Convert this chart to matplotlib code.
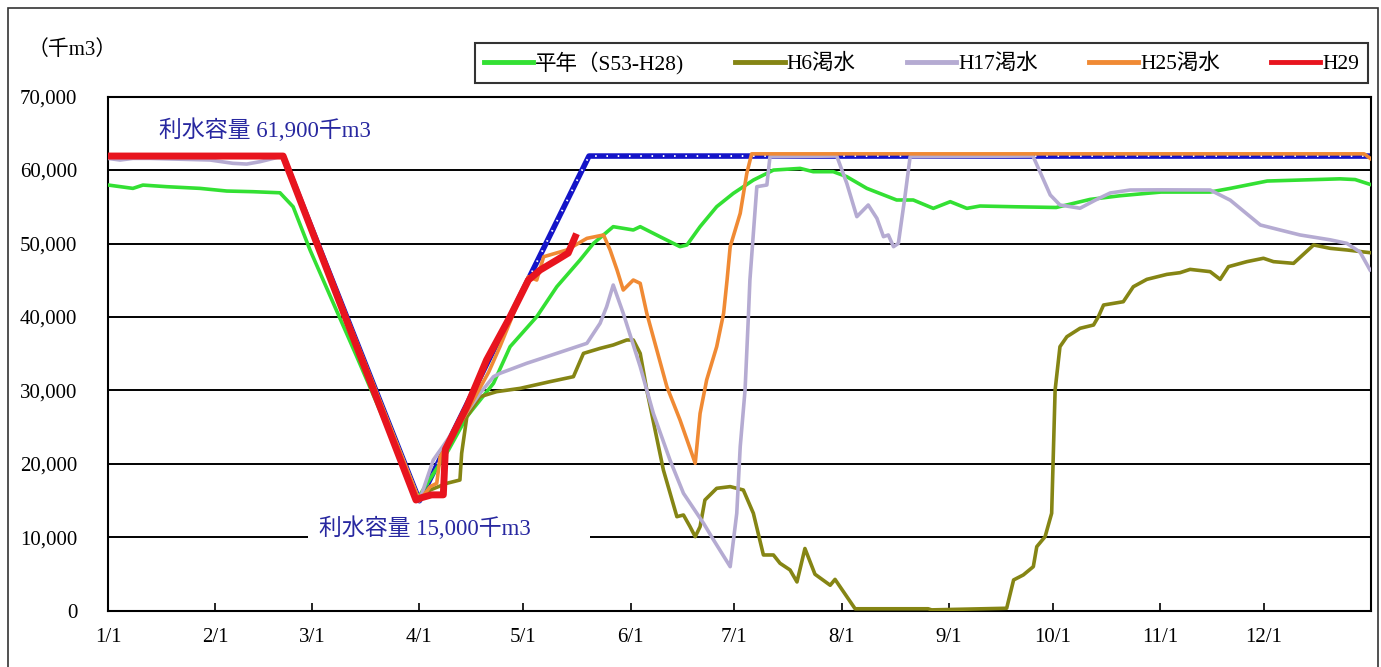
"""
Reservoir storage curve (H29 vs. past drought years).
"""

import matplotlib
matplotlib.use("Agg")
import matplotlib.pyplot as plt
from matplotlib.patches import Rectangle

plt.rcParams["font.family"] = ["Liberation Serif", "Noto Sans CJK JP", "DejaVu Sans"]

# x = day of year (0 = 1/1), y = storage in 1000 m3
month_days = [0, 31, 59, 90, 120, 151, 181, 212, 243, 273, 304, 334]
month_labels = ["1/1", "2/1", "3/1", "4/1", "5/1", "6/1",
                "7/1", "8/1", "9/1", "10/1", "11/1", "12/1"]
y_ticks = [0, 10000, 20000, 30000, 40000, 50000, 60000, 70000]

rule_days = [0, 50.6, 90, 139, 365]
rule_vals = [61900, 61900, 15000, 61900, 61900]

avg_days = [0, 7.2, 10.1, 17, 26.6, 34.3, 41.9, 49.7, 53.5, 58.4, 65, 71.9, 77.7,
            83.4, 89.2, 98.4, 103.7, 111.4, 116.2, 123.9, 129.7, 136.4, 140.3,
            146, 151.8, 153.8, 159.5, 165.3, 167.3, 171.1, 175.9, 180.7, 186.5,
            192.3, 200, 203.8, 209.6, 213.5, 219.3, 227.9, 232.7, 238.5, 243.4,
            248.2, 252, 262, 274, 283.8, 292.5, 304.3, 318.5, 324.3, 335, 356,
            360.4, 365]
avg_vals = [57960, 57500, 57950, 57730, 57500, 57140, 57050, 56900, 55000, 49100,
            42000, 34600, 28260, 21900, 15100, 21900, 26430, 30980, 35960, 40040,
            44120, 47750, 50020, 52290, 51840, 52290, 50930, 49570, 49800, 52290,
            55010, 56820, 58630, 59990, 60220, 59770, 59770, 59090, 57500, 55920,
            55920, 54780, 55690, 54780, 55100, 55000, 54900, 56000, 56500, 57000,
            57000, 57500, 58500, 58800, 58700, 58000]

h6_days = [0, 50.6, 90, 93.1, 97.9, 101.7, 102.2, 103.7, 107.5, 112.3, 119.1,
           127.7, 134.5, 137.4, 142.2, 146, 149.9, 151.8, 153.8, 155.7, 160.5,
           164.4, 166.3, 168.2, 169.7, 171.1, 172.5, 175.9, 179.8, 183.6, 186.5,
           189.4, 192.3, 194.2, 197.1, 199.1, 201.4, 204.3, 208.7, 210.1, 215.9,
           237, 238, 259.7, 261.7, 264.5, 267.4, 268.4, 270.8, 272.7, 273.7,
           275.1, 277.1, 280.9, 284.8, 286.2, 287.7, 293.4, 296.3, 300.2, 306,
           309.8, 312.7, 318.5, 321.4, 323.8, 329.1, 333.9, 336.8, 342.6, 348.4,
           353.2, 358, 364.7]
h6_vals = [61900, 61900, 15000, 16460, 17370, 17820, 21450, 26430, 29150, 29840,
           30290, 31200, 31880, 35050, 35730, 36190, 36870, 36870, 35050, 30070,
           19180, 12830, 13060, 11470, 10110, 11470, 15100, 16690, 16920, 16460,
           13290, 7620, 7620, 6490, 5580, 3950, 8500, 5000, 3500, 4300, 300,
           300, 150, 370, 4220, 4900, 6030, 8750, 10110, 13290, 30070, 35960,
           37320, 38460, 38910, 40040, 41630, 42080, 44120, 45120, 45800, 46030,
           46480, 46170, 45120, 46850, 47530, 47990, 47530, 47300, 49800, 49340,
           49120, 48750]

h17_days = [0, 3.5, 7.2, 12.1, 29.5, 36.1, 40.1, 43.9, 47.8, 50.2, 90, 94,
            107.5, 111.4, 113.3, 121, 126.8, 132.6, 138.4, 142.2, 144.1, 146,
            148.9, 153.8, 157.6, 162.4, 166.3, 172.1, 175, 179.8, 181.7, 182.7,
            184.1, 185.1, 185.5, 187.5, 190.4, 191.3, 210.6, 213.5, 216.4, 219.7,
            222.2, 224.1, 225.5, 227, 228.4, 230.3, 231.8, 267.3, 272.3, 275.1,
            280.9, 285.3, 289.6, 295.4, 304.3, 318.5, 324.3, 333, 338.7, 344.5,
            353.2, 358, 361.8, 364.7]
h17_vals = [61580, 61360, 61580, 61580, 61360, 60910, 60810, 61130, 61580, 61900,
            15000, 20540, 29610, 31880, 32340, 33700, 34600, 35510, 36420, 39140,
            41400, 44350, 40500, 33240, 26880, 20540, 16010, 11930, 9660, 6030,
            13290, 22350, 30070, 40500, 45030, 57730, 57960, 61810, 61900, 58180,
            53650, 55240, 53420, 50930, 51160, 49570, 50020, 56370, 61810, 61900,
            56600, 55240, 54800, 55900, 56870, 57280, 57300, 57280, 55900, 52520,
            51840, 51160, 50500, 50020, 48840, 46400]

h25_days = [0, 50.6, 90, 93.1, 95, 96, 103, 110, 113.3, 121.5, 123.9, 125.9,
            132.6, 138.4, 143.2, 145.1, 147.1, 148.9, 151.8, 153.8, 155.7, 161.5,
            165.3, 169.7, 171.1, 173, 175.9, 177.9, 178.9, 179.8, 182.7, 184.6,
            186, 363, 365]
h25_vals = [61900, 61900, 15000, 16920, 17370, 21000, 26500, 32500, 36000, 45480,
            45030, 48200, 49120, 50700, 51160, 49120, 46400, 43670, 45030, 44580,
            40500, 30520, 25990, 20090, 26880, 31430, 35960, 40500, 45030, 49570,
            54100, 59540, 62200, 62200, 61500]

h29_days = [0, 50.6, 89, 90.5, 93.5, 96.9, 97.5, 103.7, 109.4, 116.2, 121.5,
            124.9, 129.7, 133, 134, 135]
h29_vals = [61900, 61900, 15100, 15400, 15800, 15800, 22000, 27800, 34150, 40040,
            45030, 46400, 47750, 48700, 49800, 50900]

legend_labels = ["平年（S53-H28)", "H6渇水", "H17渇水", "H25渇水", "H29"]
note_top = "利水容量 61,900千m3"
note_bottom = "利水容量 15,000千m3"


def main():
    fig = plt.figure(figsize=(13.81, 6.67), dpi=100)
    ax = fig.add_axes([0.0782, 0.0840, 0.9146, 0.7713])

    ax.set_xlim(0, 365)
    ax.set_ylim(0, 70000)
    for v in y_ticks[1:-1]:
        ax.axhline(v, color="black", lw=1.4, zorder=1)

    # rule curve: blue with white dots
    ax.plot(rule_days, rule_vals, color="#1414C8", lw=4, zorder=2)
    ax.plot(rule_days, rule_vals, color="white", lw=1.4,
            linestyle=(0, (0.8, 5)), zorder=2.1)

    l_avg, = ax.plot(avg_days, avg_vals, color="#33E033", lw=2.6, zorder=3)
    l_h6, = ax.plot(h6_days, h6_vals, color="#858514", lw=2.6, zorder=3)
    l_h17, = ax.plot(h17_days, h17_vals, color="#B5ABD2", lw=2.6, zorder=3.2)
    l_h25, = ax.plot(h25_days, h25_vals, color="#F08A34", lw=2.6, zorder=3.4)
    l_h29, = ax.plot(h29_days, h29_vals, color="#E8141E", lw=5, zorder=4)

    ax.set_xticks(month_days)
    ax.set_xticklabels(month_labels)
    ax.set_yticks(y_ticks)
    ax.set_yticklabels([f"{v:,}" for v in y_ticks])
    ax.tick_params(axis="x", direction="in", length=6, width=1.2, pad=12,
                   labelsize=15)
    ax.tick_params(axis="y", length=0, pad=22, labelsize=15)
    for s in ax.spines.values():
        s.set_linewidth(1.5)

    # annotations
    ax.text(0.124, 0.935, note_top, transform=ax.transAxes, ha="center",
            va="center", fontsize=16.5, color="#2828A0", zorder=5)
    ax.add_patch(Rectangle((0.158, 0.12), 0.224, 0.07, transform=ax.transAxes,
                           facecolor="white", edgecolor="none", zorder=1.5))
    ax.text(0.251, 0.161, note_bottom, transform=ax.transAxes, ha="center",
            va="center", fontsize=16.5, color="#2828A0", zorder=5)

    fig.text(0.052, 0.925, "（千m3）", ha="center", va="center", fontsize=15)

    leg = fig.legend([l_avg, l_h6, l_h17, l_h25, l_h29], legend_labels,
                     ncol=5, loc="lower left", mode="expand",
                     bbox_to_anchor=(0.344, 0.8756, 0.6466, 0.0749),
                     fontsize=15.5, handlelength=2.3, handletextpad=0.1,
                     frameon=True, fancybox=False, borderaxespad=0)
    leg.get_frame().set_edgecolor("black")
    leg.get_frame().set_linewidth(1.5)
    for h in leg.get_lines():
        h.set_linewidth(3.5)

    # outer frame
    fig.patches.append(Rectangle((8 / 1381, -0.01), 1370 / 1381, 1 - 8 / 667 + 0.01,
                                 transform=fig.transFigure, fill=False,
                                 edgecolor="#333333", lw=1.2))

    fig.savefig("out.png", dpi=100)


if __name__ == "__main__":
    main()
